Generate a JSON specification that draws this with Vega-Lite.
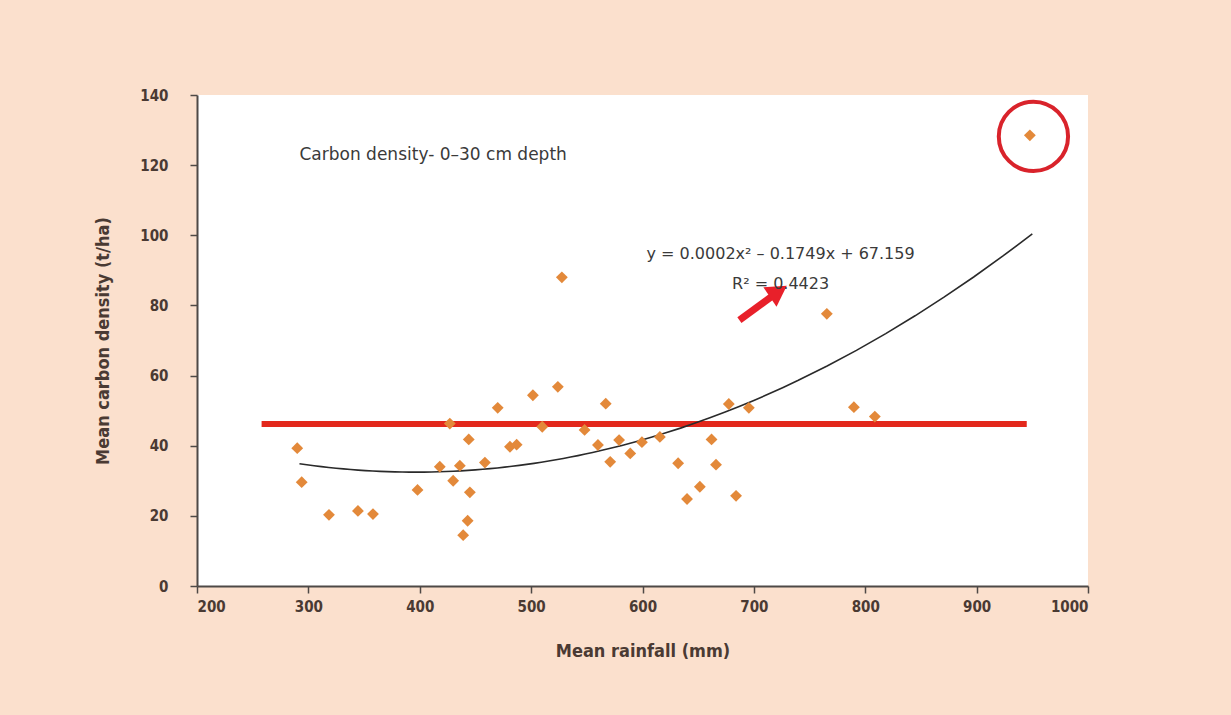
{
  "$schema": "https://vega.github.io/schema/vega-lite/v6.json",
  "autosize": "none",
  "width": 891,
  "height": 491,
  "padding": {"left": 197, "top": 95, "right": 143, "bottom": 129},
  "background": "#fbe0cd",
  "config": {
    "view": {"fill": "#ffffff", "stroke": null},
    "font": "DejaVu Sans Condensed",
    "axis": {
      "grid": false,
      "domainColor": "#4e4946",
      "domainWidth": 2,
      "tickColor": "#4e4946",
      "tickWidth": 1.5,
      "tickSize": 7,
      "labelColor": "#4a3a33",
      "labelFont": "DejaVu Sans Condensed",
      "labelFontWeight": "bold",
      "labelFontSize": 15,
      "titleColor": "#4a3a33",
      "titleFont": "DejaVu Sans Condensed",
      "titleFontWeight": "bold",
      "titleFontSize": 18
    }
  },
  "datasets": {
    "pts": [
      {"rain": 290, "carbon": 39.3},
      {"rain": 294, "carbon": 29.6},
      {"rain": 318.5, "carbon": 20.3},
      {"rain": 344.5, "carbon": 21.4},
      {"rain": 358, "carbon": 20.5},
      {"rain": 398, "carbon": 27.4},
      {"rain": 418, "carbon": 34},
      {"rain": 427, "carbon": 46.3},
      {"rain": 430, "carbon": 30},
      {"rain": 436, "carbon": 34.3},
      {"rain": 444, "carbon": 41.8},
      {"rain": 445, "carbon": 26.7},
      {"rain": 443, "carbon": 18.6},
      {"rain": 439, "carbon": 14.5},
      {"rain": 458.5, "carbon": 35.2},
      {"rain": 470, "carbon": 50.8},
      {"rain": 481, "carbon": 39.7},
      {"rain": 487, "carbon": 40.3},
      {"rain": 501.6, "carbon": 54.4},
      {"rain": 510, "carbon": 45.4},
      {"rain": 524, "carbon": 56.8},
      {"rain": 527.6, "carbon": 88},
      {"rain": 548, "carbon": 44.5},
      {"rain": 560, "carbon": 40.2},
      {"rain": 567, "carbon": 52},
      {"rain": 571, "carbon": 35.4},
      {"rain": 579, "carbon": 41.6},
      {"rain": 589, "carbon": 37.8},
      {"rain": 599.5, "carbon": 41},
      {"rain": 615.6, "carbon": 42.5},
      {"rain": 632, "carbon": 35},
      {"rain": 640, "carbon": 24.8},
      {"rain": 651.5, "carbon": 28.3},
      {"rain": 662, "carbon": 41.8},
      {"rain": 666, "carbon": 34.6},
      {"rain": 677.5, "carbon": 51.9},
      {"rain": 684, "carbon": 25.7},
      {"rain": 695.5, "carbon": 50.8},
      {"rain": 765.5, "carbon": 77.6},
      {"rain": 789.8, "carbon": 51},
      {"rain": 808.6, "carbon": 48.3},
      {"rain": 947.8, "carbon": 128.5}
    ],
    "mean": [{"rain": 258, "rain2": 945, "carbon": 46.2}],
    "outlier": [{"rain": 951, "carbon": 128.2}],
    "arrow": [{"rain": 687, "carbon": 75.8, "rain2": 718, "carbon2": 83}],
    "arrowhead": [{"rain": 722, "carbon": 84}],
    "labels": [
      {"rain": 292, "carbon": 122.8, "text": "Carbon density- 0–30 cm depth", "kind": "title"},
      {"rain": 724, "carbon": 94.6, "text": "y = 0.0002x² – 0.1749x + 67.159", "kind": "eq"},
      {"rain": 724, "carbon": 86.2, "text": "R² = 0.4423", "kind": "eq"}
    ]
  },
  "layer": [
    {
      "data": {"name": "mean"},
      "mark": {"type": "rule", "color": "#e3281c", "strokeWidth": 6},
      "encoding": {
        "x": {"field": "rain", "type": "quantitative", "scale": {"domain": [200, 1000], "nice": false}, "axis": {"values": [200, 300, 400, 500, 600, 700, 800, 900, 1000], "format": "d", "title": "Mean rainfall (mm)", "titlePadding": 28, "labelPadding": 6}},
        "x2": {"field": "rain2"},
        "y": {"field": "carbon", "type": "quantitative", "scale": {"domain": [0, 140], "nice": false}, "axis": {"values": [0, 20, 40, 60, 80, 100, 120, 140], "title": "Mean carbon density (t/ha)", "titlePadding": 27, "labelPadding": 22}}
      }
    },
    {
      "data": {"name": "pts"},
      "transform": [{"regression": "carbon", "on": "rain", "method": "poly", "order": 2, "extent": [292, 950]}],
      "mark": {"type": "line", "color": "#2a2a2a", "strokeWidth": 1.6},
      "encoding": {
        "x": {"field": "rain", "type": "quantitative"},
        "y": {"field": "carbon", "type": "quantitative"}
      }
    },
    {
      "data": {"name": "pts"},
      "mark": {"type": "point", "shape": "diamond", "filled": true, "size": 140, "color": "#e3893a", "opacity": 1},
      "encoding": {
        "x": {"field": "rain", "type": "quantitative"},
        "y": {"field": "carbon", "type": "quantitative"}
      }
    },
    {
      "data": {"name": "outlier"},
      "mark": {"type": "point", "shape": "circle", "filled": false, "size": 4800, "stroke": "#d9232b", "strokeWidth": 4, "opacity": 1},
      "encoding": {
        "x": {"field": "rain", "type": "quantitative"},
        "y": {"field": "carbon", "type": "quantitative"}
      }
    },
    {
      "data": {"name": "arrow"},
      "mark": {"type": "rule", "color": "#e8202a", "strokeWidth": 7},
      "encoding": {
        "x": {"field": "rain", "type": "quantitative"},
        "y": {"field": "carbon", "type": "quantitative"},
        "x2": {"field": "rain2"},
        "y2": {"field": "carbon2"}
      }
    },
    {
      "data": {"name": "arrowhead"},
      "mark": {"type": "point", "shape": "triangle-up", "filled": true, "size": 550, "angle": 56, "color": "#e8202a", "opacity": 1},
      "encoding": {
        "x": {"field": "rain", "type": "quantitative"},
        "y": {"field": "carbon", "type": "quantitative"}
      }
    },
    {
      "data": {"name": "labels"},
      "transform": [{"filter": "datum.kind == 'title'"}],
      "mark": {"type": "text", "align": "left", "baseline": "middle", "fontSize": 17, "color": "#3a3a3a", "font": "DejaVu Sans"},
      "encoding": {
        "x": {"field": "rain", "type": "quantitative"},
        "y": {"field": "carbon", "type": "quantitative"},
        "text": {"field": "text"}
      }
    },
    {
      "data": {"name": "labels"},
      "transform": [{"filter": "datum.kind == 'eq'"}],
      "mark": {"type": "text", "align": "center", "baseline": "middle", "fontSize": 16, "color": "#3a3a3a", "font": "DejaVu Sans"},
      "encoding": {
        "x": {"field": "rain", "type": "quantitative"},
        "y": {"field": "carbon", "type": "quantitative"},
        "text": {"field": "text"}
      }
    }
  ]
}
